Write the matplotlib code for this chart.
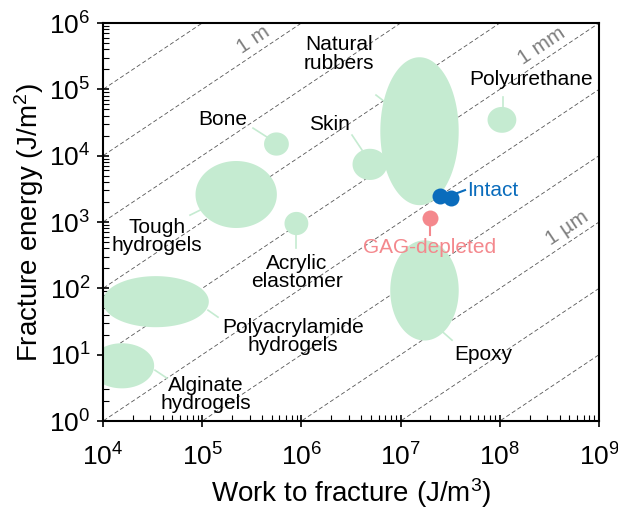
import numpy as np
import matplotlib
matplotlib.use("Agg")
import matplotlib.pyplot as plt

plt.rcParams["font.family"] = ["Liberation Sans", "DejaVu Sans"]
plt.rcParams["mathtext.fontset"] = "custom"
plt.rcParams["mathtext.rm"] = "Liberation Sans"
plt.rcParams["mathtext.it"] = "Liberation Sans:italic"

# Material property regions: centre (W, Gamma) and extent in decades
materials = ["Natural rubbers", "Polyurethane", "Bone", "Skin", "Tough hydrogels",
             "Acrylic elastomer", "Polyacrylamide hydrogels", "Alginate hydrogels", "Epoxy"]
center_w = [1.55e7, 1.05e8, 5.6e5, 4.9e6, 2.2e5, 8.9e5, 3.4e4, 1.55e4, 1.74e7]
center_g = [2.34e4, 3.47e4, 1.5e4, 7.4e3, 2.6e3, 9.5e2, 63, 6.8, 93]
span_w = [0.79, 0.29, 0.25, 0.35, 0.82, 0.24, 1.07, 0.65, 0.69]
span_g = [2.23, 0.39, 0.35, 0.47, 1.01, 0.35, 0.77, 0.68, 1.51]

# Label text and positions for each region
labels = ["Natural\nrubbers", "Polyurethane", "Bone", "Skin", "Tough\nhydrogels",
          "Acrylic\nelastomer", "Polyacrylamide\nhydrogels", "Alginate\nhydrogels", "Epoxy"]
label_w = [10**6.379, 10**8.315, 10**5.21, 10**6.278, 10**4.544,
           10**5.956, 10**5.915, 10**5.038, 10**7.831]
label_g = [10**5.532, 10**5.155, 10**4.552, 10**4.477, 10**2.787,
           10**2.244, 10**1.279, 10**0.404, 10**1.008]
leader_w = [(10**6.752, 10**6.883), (10**8.032, 10**8.032), (10**5.512, 10**5.653),
            (10**6.51, 10**6.611), (10**4.877, 10**4.978), (10**5.946, 10**5.946),
            (10**5.058, 10**5.159), (10**4.524, 10**4.645), (10**7.427, 10**7.518)]
leader_g = [(10**4.914, 10**4.763), (10**4.884, 10**4.733), (10**4.416, 10**4.281),
            (10**4.311, 10**4.085), (10**3.104, 10**3.179), (10**2.802, 10**2.606),
            (10**1.671, 10**1.566), (10**0.766, 10**0.646), (10**1.339, 10**1.219)]

# Meniscus measurements
intact_w = [2.5e7, 3.2e7]
intact_g = [2460, 2300]
gag_w = [2.0e7]
gag_g = [1150]

# Characteristic length lines Gamma = W * L
length_exp = np.arange(-10, 3)
length_labels = ["1 m", "1 mm", "1 \u00b5m"]
length_values = [1.0, 1e-3, 1e-6]
length_label_w = [10**5.512, 10**8.425, 10**8.677]

green = "#c5ebd1"
blue = "#0a6cbc"
pink = "#f4888d"

fig = plt.figure(figsize=(6.18, 5.12), dpi=100)
ax = fig.add_axes([0.1667, 0.1777, 0.8026, 0.7773])
ax.set_xscale("log")
ax.set_yscale("log")
ax.set_xlim(1e4, 1e9)
ax.set_ylim(1e0, 1e6)

wgrid = np.logspace(3, 10, 50)
for k in length_exp:
    ax.plot(wgrid, wgrid * 10.0**k, ls=(0, (5, 3)), color="#555555", lw=0.6, zorder=1)

t = np.linspace(0, 2 * np.pi, 200)
for cw, cg, sw, sg in zip(center_w, center_g, span_w, span_g):
    xs = 10 ** (np.log10(cw) + sw / 2 * np.cos(t))
    ys = 10 ** (np.log10(cg) + sg / 2 * np.sin(t))
    ax.fill(xs, ys, color=green, lw=0, zorder=2)

for lab, lw_, lg_, sx, sy in zip(labels, label_w, label_g, leader_w, leader_g):
    ax.plot(sx, sy, color=green, lw=1.2, zorder=2)
    ax.text(lw_, lg_, lab, ha="center", va="center", fontsize=15,
            linespacing=0.95, zorder=5)

# Length scale labels aligned with the dashed lines
fig.canvas.draw()
p0 = ax.transData.transform((1e5, 1e2))
p1 = ax.transData.transform((1e6, 1e3))
angle = np.degrees(np.arctan2(p1[1] - p0[1], p1[0] - p0[0]))
for lab, L, xw in zip(length_labels, length_values, length_label_w):
    ax.annotate(lab, (xw, xw * L), xytext=(0, 11), textcoords="offset points",
                ha="center", va="center", rotation=angle, rotation_mode="anchor",
                fontsize=15, color="#7f7f7f", zorder=5)

ax.plot([10**7.569, 10**7.649], [10**3.436, 10**3.481], color=blue, lw=1.5, zorder=3)
ax.plot(intact_w, intact_g, "o", color=blue, ms=11.5, mec="none", zorder=4)
ax.text(10**7.931, 10**3.481, "Intact", color=blue, fontsize=15, ha="center", va="center")
ax.plot([10**7.296, 10**7.296], [10**2.938, 10**2.802], color=pink, lw=1.5, zorder=3)
ax.plot(gag_w, gag_g, "o", color=pink, ms=11.5, mec="none", zorder=4)
ax.text(10**7.296, 10**2.621, "GAG-depleted", color=pink, fontsize=15, ha="center", va="center")

ax.set_xlabel("Work to fracture (J/m$^{\\mathdefault{3}}$)", fontsize=20, labelpad=4)
ax.set_ylabel("Fracture energy (J/m$^{\\mathdefault{2}}$)", fontsize=20, labelpad=2)

for s in ax.spines.values():
    s.set_linewidth(1.5)
ax.tick_params(which="major", direction="inout", length=8, width=1.2, labelsize=19)
ax.tick_params(axis="x", which="major", pad=12)
ax.tick_params(axis="y", which="major", pad=5)
ax.tick_params(which="minor", direction="in", length=4, width=0.8)
ax.xaxis.set_major_locator(matplotlib.ticker.LogLocator(base=10, numticks=10))
ax.yaxis.set_major_locator(matplotlib.ticker.LogLocator(base=10, numticks=10))
ax.xaxis.set_minor_locator(matplotlib.ticker.LogLocator(base=10, subs=np.arange(2, 10), numticks=100))
ax.yaxis.set_minor_locator(matplotlib.ticker.LogLocator(base=10, subs=np.arange(2, 10), numticks=100))

fig.savefig("out.png", dpi=100)
